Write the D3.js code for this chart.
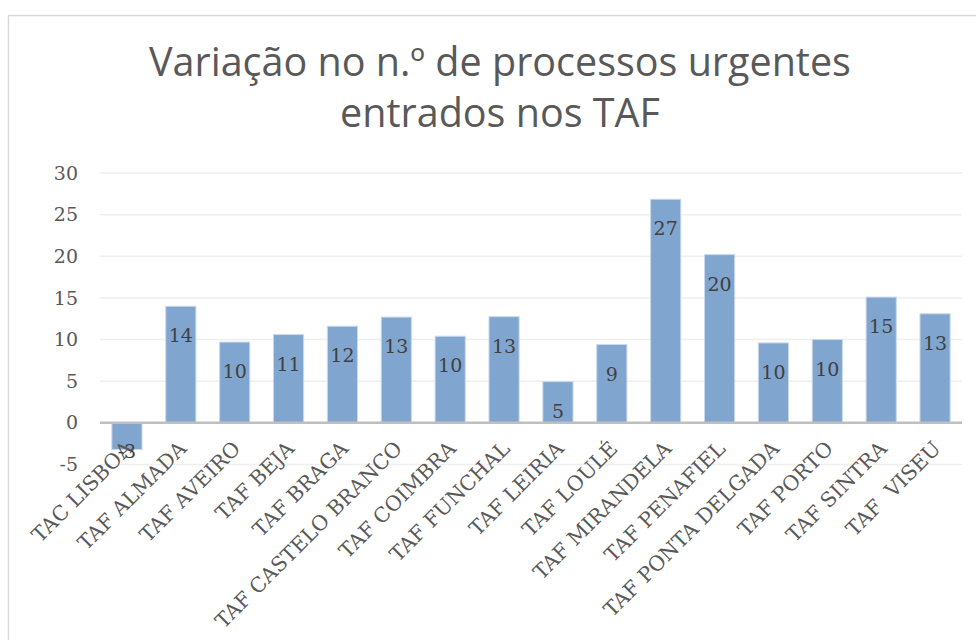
<!DOCTYPE html>
<html>
<head>
<meta charset="utf-8">
<script src="https://cdn.jsdelivr.net/npm/d3@7"></script>
<style>
    body { margin: 0; background: #fff; }
    #chart-vis { width: 976px; height: 640px; }
</style>
</head>
<body>
<div id="chart-vis"></div>
<script>
// Data
let categories = ["TAC LISBOA", "TAF ALMADA", "TAF AVEIRO", "TAF BEJA", "TAF BRAGA",
    "TAF CASTELO BRANCO", "TAF COIMBRA", "TAF FUNCHAL", "TAF LEIRIA", "TAF LOULÉ",
    "TAF MIRANDELA", "TAF PENAFIEL", "TAF PONTA DELGADA", "TAF PORTO", "TAF SINTRA", "TAF  VISEU"];
let values = [-3.2, 14.0, 9.7, 10.6, 11.6, 12.7, 10.4, 12.75, 4.95, 9.4, 26.85, 20.2, 9.6, 10.0, 15.1, 13.1];
let yTicks = [-5, 0, 5, 10, 15, 20, 25, 30];
let titleLines = ["Variação no n.º de processos urgentes", "entrados nos TAF"];

let svg = d3.select("#chart-vis").append("svg")
    .attr("width", 976)
    .attr("height", 640);

// chart frame
svg.append("rect")
    .attr("x", 8.5).attr("y", 15.5)
    .attr("width", 1000).attr("height", 700)
    .attr("fill", "#fff")
    .attr("stroke", "#d9d9d9")
    .attr("stroke-width", 1.5);

// title
svg.append("g").selectAll("text")
    .data(titleLines)
    .enter().append("text")
    .attr("x", 500)
    .attr("y", (d, i) => 76 + i * 51)
    .attr("text-anchor", "middle")
    .attr("font-family", "'Open Sans', sans-serif")
    .attr("font-size", 39.5)
    .attr("fill", "#595959")
    .text(d => d);

let margin = { left: 100, right: 14, top: 173, bottom: 176 };
let width = 976 - margin.left - margin.right;

let x = d3.scaleBand()
    .domain(categories)
    .range([margin.left, margin.left + width])
    .paddingInner(0.44)
    .paddingOuter(0.22);

let y = d3.scaleLinear()
    .domain([-5, 30])
    .range([464.5, 173]);

// gridlines
svg.append("g").selectAll("line")
    .data(yTicks.filter(d => d !== 0))
    .enter().append("line")
    .attr("x1", margin.left).attr("x2", margin.left + width)
    .attr("y1", d => y(d)).attr("y2", d => y(d))
    .attr("stroke", "#efefef")
    .attr("stroke-width", 1.5);

// y tick labels (plain hyphen for negatives, as in the original)
let yAxis = d3.axisLeft(y).tickValues(yTicks).tickFormat(d => String(d)).tickSize(0).tickPadding(22);
let yg = svg.append("g")
    .attr("transform", `translate(${margin.left},0)`)
    .call(yAxis);
yg.select(".domain").remove();
yg.selectAll("text")
    .attr("font-family", "'DejaVu Serif', serif")
    .attr("font-size", 19)
    .attr("fill", "#595959");

// bars
svg.append("g").selectAll("rect")
    .data(values)
    .enter().append("rect")
    .attr("x", (d, i) => x(categories[i]))
    .attr("width", x.bandwidth())
    .attr("y", d => y(Math.max(0, d)))
    .attr("height", d => Math.abs(y(d) - y(0)))
    .attr("fill", "#80a6cf")
    .attr("stroke", "#c9d9ec")
    .attr("stroke-width", 1);

// zero line
svg.append("line")
    .attr("x1", margin.left).attr("x2", margin.left + width)
    .attr("y1", y(0)).attr("y2", y(0))
    .attr("stroke", "#bfbfbf")
    .attr("stroke-width", 2.5);

// category labels
svg.append("g").selectAll("text")
    .data(categories)
    .enter().append("text")
    .attr("transform", d => `translate(${x(d) + x.bandwidth() / 2 + 7},${y(0) + 27}) rotate(-45)`)
    .attr("text-anchor", "end")
    .attr("font-family", "'DejaVu Serif', serif")
    .attr("font-size", 20.5)
    .attr("fill", "#595959")
    .attr("xml:space", "preserve")
    .style("white-space", "pre")
    .text(d => d);

// value labels
svg.append("g").selectAll("text")
    .data(values)
    .enter().append("text")
    .attr("x", (d, i) => x(categories[i]) + x.bandwidth() / 2)
    .attr("y", d => d >= 0 ? y(d) + 36 : y(d) + 8)
    .attr("text-anchor", "middle")
    .attr("font-family", "'DejaVu Serif', serif")
    .attr("font-size", 19)
    .attr("fill", "#404040")
    .text(d => String(Math.round(d)));
</script>
</body>
</html>
